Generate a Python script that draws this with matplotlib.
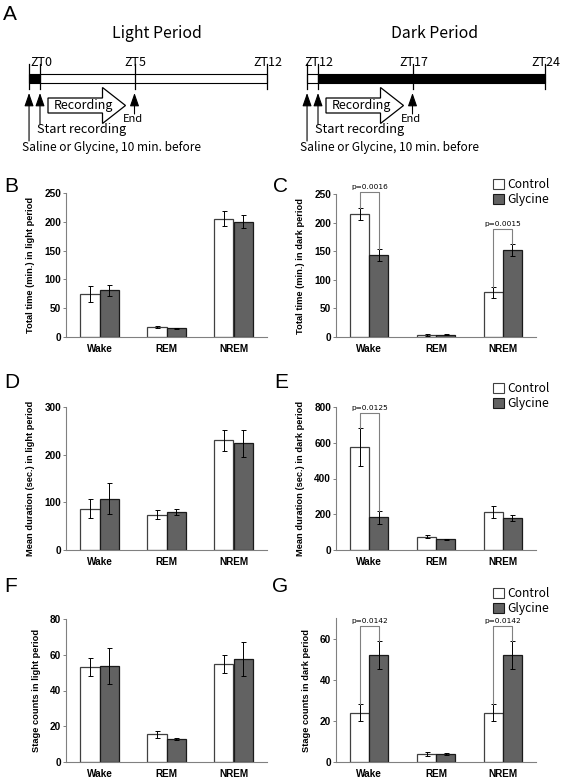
import matplotlib
matplotlib.use('Agg')
import matplotlib.pyplot as plt
from matplotlib.patches import Rectangle, FancyArrow, Patch
import numpy as np

W, H = 568, 780

stages = ['Wake', 'REM', 'NREM']
groups = ['Control', 'Glycine']

# B: total time (min.) in light period
b_ctrl = [75, 17, 205]
b_ctrl_err = [14, 1.5, 13]
b_gly = [81, 15, 200]
b_gly_err = [10, 1, 11]
# C: total time (min.) in dark period
c_ctrl = [215, 4, 78]
c_ctrl_err = [10, 2, 10]
c_gly = [143, 4, 152]
c_gly_err = [10, 1, 11]
c_pvals = [(0, 253, 'p=0.0016'), (2, 189, 'p=0.0015')]
# D: mean duration (sec.) in light period
d_ctrl = [87, 74, 230]
d_ctrl_err = [20, 10, 22]
d_gly = [108, 80, 224]
d_gly_err = [33, 6, 28]
# E: mean duration (sec.) in dark period
e_ctrl = [575, 75, 211]
e_ctrl_err = [107, 10, 34]
e_gly = [183, 60, 178]
e_gly_err = [35, 4, 16]
e_pvals = [(0, 767, 'p=0.0125')]
# F: stage counts in light period
f_ctrl = [53, 15.5, 55]
f_ctrl_err = [5, 2, 5]
f_gly = [53.5, 13, 57.5]
f_gly_err = [10, 0.7, 9.5]
# G: stage counts in dark period
g_ctrl = [24, 4, 24]
g_ctrl_err = [4, 1, 4]
g_gly = [52, 4, 52]
g_gly_err = [7, 0.5, 7]
g_pvals = [(0, 66, 'p=0.0142'), (2, 66, 'p=0.0142')]

# schematic timeline (hours)
light_zt = [0, 5, 12]
dark_zt = [12, 17, 24]
PRE = 0.58      # drawn length of the "10 min. before" segment
PX_H = 18.9     # pixels per hour in the schematic

jp = ['Noto Sans CJK JP', 'DejaVu Sans']
plt.rcParams['font.family'] = ['Liberation Sans', 'DejaVu Sans']

fig = plt.figure(figsize=(W / 100, H / 100), dpi=100)

# ---- panel A drawn in pixel coordinates
sch = fig.add_axes([0, 0, 1, 1])
sch.set_xlim(0, W)
sch.set_ylim(H, 0)
sch.axis('off')


def up_arrow(x, tip, tail):
    sch.annotate('', xy=(x, tip), xytext=(x, tail),
                 arrowprops=dict(arrowstyle='-|>,head_length=0.8,head_width=0.28',
                                 color='black', lw=0.8, shrinkA=0, shrinkB=0))


def timeline(x0, zts, title, pre_black):
    xs = [x0 + PX_H * (z - zts[0]) for z in zts]
    xl = x0 - PX_H * PRE
    sch.add_patch(Rectangle((xl, 74), x0 - xl, 9, fc='black' if pre_black else 'white',
                            ec='black', lw=0.8))
    sch.add_patch(Rectangle((x0, 74), xs[-1] - x0, 9, fc='white' if pre_black else 'black',
                            ec='black', lw=0.8))
    for x in [xl] + xs:
        sch.plot([x, x], [64, 89], color='black', lw=0.9)
    for x, z in zip(xs, zts):
        sch.text(x + 1, 62, 'ZT%d' % z, ha='center', va='center', fontsize=9, family=jp)
    sch.text(x0 + 117, 33, title, ha='center', va='center', fontsize=11.4, family=jp)
    up_arrow(xl, 93, 141)
    up_arrow(x0, 93, 124)
    up_arrow(xs[1], 93, 114)
    sch.add_patch(FancyArrow(x0 + 8, 105.5, xs[1] - x0 - 17, 0, width=15, head_width=36,
                             head_length=23, length_includes_head=True,
                             fc='white', ec='black', lw=0.9))
    sch.text(x0 + 43, 106, 'Recording', ha='center', va='center', fontsize=9, family=jp)
    sch.text(xs[1] - 2, 119, 'End', ha='center', va='center', fontsize=8, family=jp)
    sch.text(x0 - 3, 130, 'Start recording', ha='left', va='center', fontsize=9.2, family=jp)
    sch.text(xl - 7, 147, 'Saline or Glycine, 10 min. before', ha='left', va='center',
             fontsize=8.6, family=jp)


timeline(40, light_zt, 'Light Period', True)
timeline(318, dark_zt, 'Dark Period', False)

# panel letters
for letter, x, y in [('A', 3, 15), ('B', 4, 187), ('C', 273, 187), ('D', 4, 382),
                     ('E', 274, 382), ('F', 4, 586), ('G', 272, 586)]:
    sch.text(x, y, letter, ha='left', va='center', fontsize=15)


def px_axes(x0, y0, x1, y1):
    return fig.add_axes([x0 / W, 1 - y1 / H, (x1 - x0) / W, (y1 - y0) / H])


def bar_panel(box, ctrl, ctrl_err, gly, gly_err, ymax, yticks, ylabel, pvals=None, legend_y=None):
    ax = px_axes(*box)
    x = np.arange(len(stages))
    w = 0.285
    ek = dict(ecolor='black', elinewidth=0.7, capsize=1.8, capthick=0.7)
    ax.bar(x - w / 2, ctrl, w, yerr=ctrl_err, color='white', edgecolor='#404040', lw=0.9,
           error_kw=ek, label=groups[0])
    ax.bar(x + w / 2, gly, w, yerr=gly_err, color='#626262', edgecolor='#1a1a1a', lw=0.9,
           error_kw=ek, label=groups[1])
    ax.set_xlim(-0.5, 2.5)
    ax.set_ylim(0, ymax)
    ax.set_yticks(yticks)
    ax.set_xticks(x)
    ax.set_xticklabels(stages, fontweight='bold', fontsize=7.2)
    for t in ax.get_yticklabels():
        t.set_fontweight('bold')
        t.set_fontsize(7.2)
    ax.tick_params(axis='x', length=0, pad=5)
    ax.tick_params(axis='y', length=2.5, width=0.7, pad=1, color='#808080')
    for s in ['top', 'right']:
        ax.spines[s].set_visible(False)
    for s in ['left', 'bottom']:
        ax.spines[s].set_color('#808080')
        ax.spines[s].set_linewidth(0.8)
    ax.set_ylabel(ylabel, fontweight='bold', fontsize=6.7, labelpad=6.5)
    if pvals:
        for i, h, txt in pvals:
            xl, xr = i - w / 2, i + w / 2
            yl = ctrl[i] + ctrl_err[i]
            yr = gly[i] + gly_err[i]
            ax.plot([xl, xl, xr, xr], [yl, h, h, yr], color='#808080', lw=0.8, clip_on=False)
            ax.annotate(txt, xy=(i, h), xytext=(0, 1.5), textcoords='offset points',
                        ha='center', va='bottom', fontsize=5.3, family=['DejaVu Sans'],
                        annotation_clip=False)
    if legend_y is not None:
        handles = [Patch(facecolor='white', edgecolor='#404040', lw=0.8),
                   Patch(facecolor='#626262', edgecolor='#1a1a1a', lw=0.8)]
        ax.legend(handles, groups, loc='upper left', bbox_to_anchor=(493 / W, 1 - legend_y / H),
                  bbox_transform=fig.transFigure, frameon=False,
                  handlelength=0.9, handleheight=0.9, handletextpad=0.3,
                  labelspacing=0.15, borderpad=0, borderaxespad=0, prop={'family': jp, 'size': 8.7})
    return ax


bar_panel((66, 193, 267, 337), b_ctrl, b_ctrl_err, b_gly, b_gly_err, 250,
          [0, 50, 100, 150, 200, 250], 'Total time (min.) in light period')
bar_panel((336, 194, 536, 337), c_ctrl, c_ctrl_err, c_gly, c_gly_err, 250,
          [0, 50, 100, 150, 200, 250], 'Total time (min.) in dark period', c_pvals, 178)
bar_panel((66, 407, 267, 550), d_ctrl, d_ctrl_err, d_gly, d_gly_err, 300,
          [0, 100, 200, 300], 'Mean duration (sec.) in light period')
bar_panel((336, 407, 536, 550), e_ctrl, e_ctrl_err, e_gly, e_gly_err, 800,
          [0, 200, 400, 600, 800], 'Mean duration (sec.) in dark period', e_pvals, 382)
bar_panel((66, 619, 267, 762), f_ctrl, f_ctrl_err, f_gly, f_gly_err, 80,
          [0, 20, 40, 60, 80], 'Stage counts in light period')
bar_panel((336, 618, 536, 762), g_ctrl, g_ctrl_err, g_gly, g_gly_err, 70,
          [0, 20, 40, 60], 'Stage counts in dark period', g_pvals, 587)

fig.savefig('out.png', dpi=100)
